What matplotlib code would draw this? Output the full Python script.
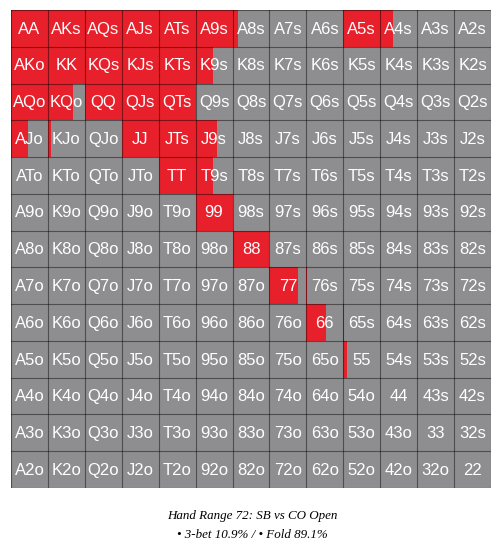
import matplotlib
matplotlib.use('Agg')
import matplotlib.pyplot as plt
import numpy as np

RANKS = ['A', 'K', 'Q', 'J', 'T', '9', '8', '7', '6', '5', '4', '3', '2']

# 3-bet frequency per cell (row = first rank, col = second rank)
threebet = [
    [1, 1, 1, 1, 1, 1, 0.14, 0, 0, 1, 0.34, 0, 0],
    [1, 1, 1, 1, 1, 0.47, 0, 0, 0, 0, 0, 0, 0],
    [1, 0.67, 1, 1, 1, 0, 0, 0, 0, 0, 0, 0, 0],
    [0.47, 0.09, 0, 1, 1, 0.57, 0, 0, 0, 0, 0, 0, 0],
    [0, 0, 0, 0, 1, 0.47, 0, 0, 0, 0, 0, 0, 0],
    [0, 0, 0, 0, 0, 1, 0, 0, 0, 0, 0, 0, 0],
    [0, 0, 0, 0, 0, 0, 1, 0, 0, 0, 0, 0, 0],
    [0, 0, 0, 0, 0, 0, 0, 0.76, 0.03, 0, 0, 0, 0],
    [0, 0, 0, 0, 0, 0, 0, 0, 0.52, 0.03, 0, 0, 0],
    [0, 0, 0, 0, 0, 0, 0, 0, 0, 0.1, 0, 0, 0],
    [0, 0, 0, 0, 0, 0, 0, 0, 0, 0, 0, 0, 0],
    [0, 0, 0, 0, 0, 0, 0, 0, 0, 0, 0, 0, 0],
    [0, 0, 0, 0, 0, 0, 0, 0, 0, 0, 0, 0, 0],
]

title_line = 'Hand Range 72: SB vs CO Open'
stats_line = '\u2022 3-bet 10.9% / \u2022 Fold 89.1%'

RED = '#e7202b'
GRAY = '#8e8e90'

W, H = 504, 552
fig = plt.figure(figsize=(W / 100, H / 100), dpi=100)
ax = fig.add_axes([11 / W, 1 - 488 / H, 480 / W, 478 / H])

n = len(RANKS)
freq = np.array(threebet, dtype=float)

for i in range(n):
    # fold background for the whole row, then 3-bet share from the left
    ax.bar(np.arange(n), 1, bottom=i, width=1, align='edge', color=GRAY, linewidth=0)
    ax.bar(np.arange(n), 1, bottom=i, width=freq[i], align='edge', color=RED, linewidth=0)
    for j in range(n):
        if i == j:
            label = RANKS[i] * 2
        elif j > i:
            label = RANKS[i] + RANKS[j] + 's'
        else:
            label = RANKS[j] + RANKS[i] + 'o'
        ax.text(j + 0.5, i + 0.52, label, ha='center', va='center',
                color='white', fontsize=12, family='Liberation Sans')

for k in range(n + 1):
    ax.axhline(k, color='black', alpha=0.45, lw=0.8)
    ax.axvline(k, color='black', alpha=0.45, lw=0.8)

ax.set_xlim(0, n)
ax.set_ylim(n, 0)
ax.axis('off')

fig.text(0.5, 1 - 516 / H, title_line, ha='center', va='center',
         fontsize=9.4, style='italic', family='Liberation Serif')
fig.text(0.5, 1 - 535 / H, stats_line, ha='center', va='center',
         fontsize=9.4, style='italic', family='Liberation Serif')

fig.savefig('out.png', dpi=100)
